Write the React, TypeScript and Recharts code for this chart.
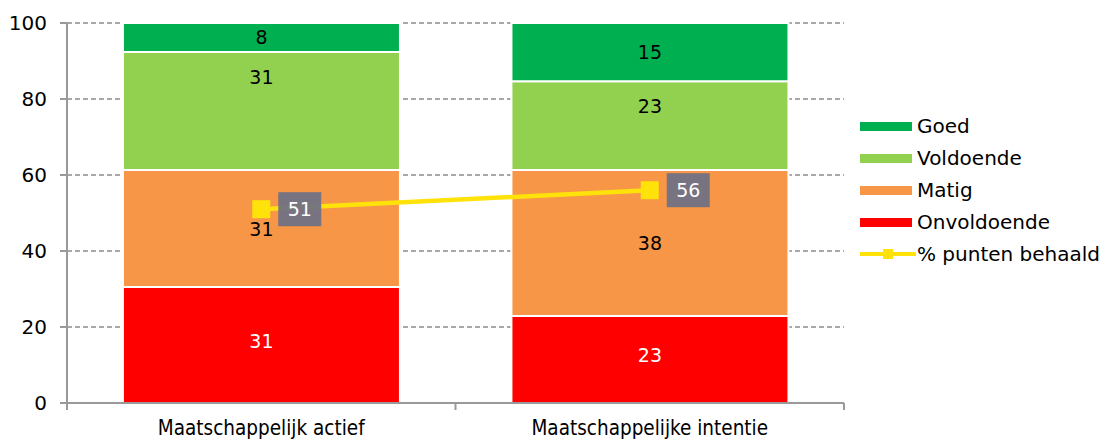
import React from "react";
import {
  ComposedChart,
  Bar,
  Line,
  XAxis,
  YAxis,
  CartesianGrid,
  LabelList,
} from "recharts";

const categories = ["Maatschappelijk actief", "Maatschappelijke intentie"];
const onvoldoende = [30.5, 22.9];
const matig = [30.8, 38.4];
const voldoende = [31.1, 23.4];
const goed = [7.6, 15.3];
const punten = [51, 56];
const yTicks = [0, 20, 40, 60, 80, 100];

const data = categories.map((name, i) => ({
  name,
  Onvoldoende: onvoldoende[i],
  Matig: matig[i],
  Voldoende: voldoende[i],
  Goed: goed[i],
  punten: punten[i],
}));

const FONT = "'DejaVu Sans', Verdana, sans-serif";
const YELLOW = "#FFE20A";

const legendItems = [
  { name: "Goed", color: "#00B050", line: false },
  { name: "Voldoende", color: "#92D050", line: false },
  { name: "Matig", color: "#F79646", line: false },
  { name: "Onvoldoende", color: "#FF0000", line: false },
  { name: "% punten behaald", color: YELLOW, line: true },
];

function ChartLegend() {
  return (
    <div style={{ position: "absolute", left: 860, top: 110, fontFamily: FONT, fontSize: 20, color: "#000" }}>
      {legendItems.map((it) => (
        <div key={it.name} style={{ display: "flex", alignItems: "center", height: 32 }}>
          <svg width={57} height={20}>
            {it.line ? (
              <>
                <line x1={0} y1={10} x2={56} y2={10} stroke={it.color} strokeWidth={4} />
                <rect x={23} y={5} width={10} height={10} fill={it.color} />
              </>
            ) : (
              <rect x={0} y={6} width={52} height={9} fill={it.color} />
            )}
          </svg>
          <span>{it.name}</span>
        </div>
      ))}
    </div>
  );
}

const centerLabel = (fill: string, shift = 0) => (props: any) => {
  const { x, y, width, height, value } = props;
  return (
    <text
      x={x + width / 2}
      y={y + height / 2 + shift}
      textAnchor="middle"
      dominantBaseline="central"
      fill={fill}
      fontFamily={FONT}
      fontSize={19}
    >
      {Math.round(value)}
    </text>
  );
};

const topLabel = (props: any) => {
  const { x, y, width, value } = props;
  return (
    <text
      x={x + width / 2}
      y={y + 25}
      textAnchor="middle"
      dominantBaseline="central"
      fill="#000"
      fontFamily={FONT}
      fontSize={19}
    >
      {Math.round(value)}
    </text>
  );
};

const pointLabel = (props: any) => {
  const { x, y, value } = props;
  return (
    <g>
      <rect x={x + 17} y={y - 17} width={43} height={34} fill="#6E7085" fillOpacity={0.93} />
      <text
        x={x + 38.5}
        y={y}
        textAnchor="middle"
        dominantBaseline="central"
        fill="#fff"
        fontFamily={FONT}
        fontSize={19}
      >
        {value}
      </text>
    </g>
  );
};

const squareDot = (props: any) => {
  const { cx, cy, index } = props;
  return <rect key={`dot-${index}`} x={cx - 9} y={cy - 9} width={18} height={18} fill={YELLOW} />;
};

// category tick: label at the centre, tick marks at the band edges
const CategoryTick = (props: any) => {
  const { x, y, payload, index, visibleTicksCount } = props;
  const half = payload?.offset ?? 0;
  const axisY = 403;
  return (
    <g>
      <line x1={x - half} y1={axisY} x2={x - half} y2={axisY + 7} stroke="#999" strokeWidth={2} />
      {index === visibleTicksCount - 1 && (
        <line x1={x + half} y1={axisY} x2={x + half} y2={axisY + 7} stroke="#999" strokeWidth={2} />
      )}
      <text
        x={x}
        y={y}
        dy={26}
        textAnchor="middle"
        fill="#000"
        fontSize={20.5}
        fontFamily="'DejaVu Sans Condensed', 'DejaVu Sans', sans-serif"
      >
        {payload.value}
      </text>
    </g>
  );
};

export default function App() {
  return (
    <div style={{ position: "absolute", left: 0, top: 0, width: 1107, height: 439, background: "#fff" }}>
      <ComposedChart
        width={1107}
        height={439}
        data={data}
        margin={{ top: 23, right: 263, bottom: 0, left: 0 }}
        barCategoryGap="14.4%"
      >
        <CartesianGrid
          horizontal
          vertical={false}
          stroke="#8C8C8C"
          strokeWidth={1.5}
          strokeDasharray="5 3"
        />
        <XAxis
          dataKey="name"
          height={36}
          axisLine={{ stroke: "#999", strokeWidth: 2 }}
          tickLine={false}
          tickMargin={0}
          tick={<CategoryTick />}
        />
        <YAxis
          domain={[0, 100]}
          ticks={yTicks}
          width={67}
          tickSize={7}
          tickMargin={13}
          axisLine={{ stroke: "#999", strokeWidth: 2 }}
          tickLine={{ stroke: "#999", strokeWidth: 2 }}
          tick={{ fill: "#000", fontSize: 20, fontFamily: FONT }}
        />
        <Bar dataKey="Onvoldoende" stackId="a" fill="#FF0000" stroke="#fff" strokeWidth={2} isAnimationActive={false}>
          <LabelList dataKey="Onvoldoende" content={centerLabel("#fff", -4)} />
        </Bar>
        <Bar dataKey="Matig" stackId="a" fill="#F79646" stroke="#fff" strokeWidth={2} isAnimationActive={false}>
          <LabelList dataKey="Matig" content={centerLabel("#000")} />
        </Bar>
        <Bar dataKey="Voldoende" stackId="a" fill="#92D050" stroke="#fff" strokeWidth={2} isAnimationActive={false}>
          <LabelList dataKey="Voldoende" content={topLabel} />
        </Bar>
        <Bar dataKey="Goed" stackId="a" fill="#00B050" stroke="#fff" strokeWidth={2} isAnimationActive={false}>
          <LabelList dataKey="Goed" content={centerLabel("#000")} />
        </Bar>
        <Line
          dataKey="punten"
          stroke={YELLOW}
          strokeWidth={4.5}
          dot={squareDot}
          activeDot={false}
          isAnimationActive={false}
        >
          <LabelList dataKey="punten" content={pointLabel} />
        </Line>
      </ComposedChart>
      <ChartLegend />
    </div>
  );
}
